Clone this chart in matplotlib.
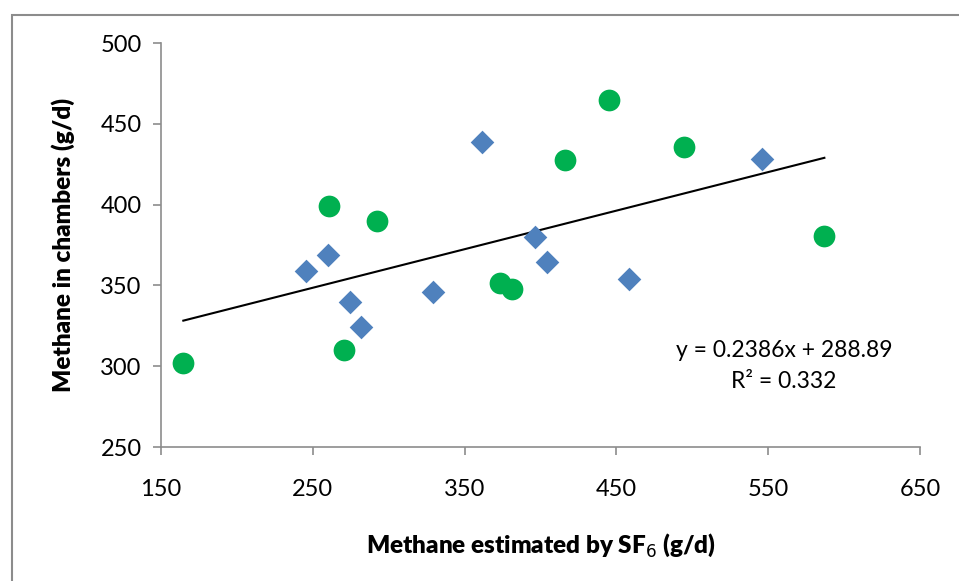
import matplotlib.pyplot as plt
import numpy as np
from matplotlib.patches import Rectangle

# data
blue_x = [245.6, 260.3, 274.8, 282.0, 329.2, 361.4, 396.1, 404.4, 458.6, 546.1]
blue_y = [358.7, 368.8, 339.9, 324.3, 345.7, 438.5, 380.0, 364.7, 354.0, 428.2]
green_x = [164.7, 260.5, 270.4, 292.1, 373.0, 381.4, 416.4, 445.2, 494.5, 587.0]
green_y = [301.8, 399.1, 309.8, 390.0, 351.7, 347.6, 427.6, 464.5, 435.6, 380.8]
slope, intercept = 0.2386, 288.89
r2 = 0.332
x_ticks = [150, 250, 350, 450, 550, 650]
y_ticks = [250, 300, 350, 400, 450, 500]

plt.rcParams['font.family'] = ['Lato', 'DejaVu Sans']

fig = plt.figure(figsize=(9.59, 5.81), dpi=100)
ax = fig.add_axes([161 / 959, 1 - 447 / 581, (920 - 161) / 959, (447 - 43) / 581])

# outer chart frame (cropped at right and bottom)
fig.patches.append(Rectangle((12 / 959, -0.1), 1.0, 1 - 15 / 581 + 0.1,
                             transform=fig.transFigure, fill=False,
                             edgecolor='#8c8c8c', linewidth=1.5))

ax.scatter(blue_x, blue_y, marker='D', s=145, color='#4f81bd', linewidths=0, zorder=3)
ax.scatter(green_x, green_y, marker='o', s=245, color='#00b050', linewidths=0, zorder=3)

all_x = np.array(blue_x + green_x)
fx = np.array([all_x.min(), all_x.max()])
ax.plot(fx, slope * fx + intercept, color='black', linewidth=1.5, zorder=2)

# trendline label, placed in axes fraction
ax.text(0.821, 0.240, f'y = {slope}x + {intercept}', transform=ax.transAxes,
        ha='center', va='center', fontsize=16.5)
ax.text(0.821, 0.161, f'R² = {r2}', transform=ax.transAxes,
        ha='center', va='center', fontsize=16.5)

ax.set_xlim(150, 650)
ax.set_ylim(250, 500)
ax.set_xticks(x_ticks)
ax.set_yticks(y_ticks)
ax.tick_params(direction='out', length=6, width=1.2, color='#8c8c8c', labelsize=17, pad=8)
ax.tick_params(axis='x', pad=17)
for side in ['top', 'right']:
    ax.spines[side].set_visible(False)
for side in ['left', 'bottom']:
    ax.spines[side].set_color('#8c8c8c')
    ax.spines[side].set_linewidth(1.2)

ax.set_xlabel('Methane estimated by SF$_6$ (g/d)', fontsize=17.5, fontweight='heavy', labelpad=23)
ax.set_ylabel('Methane in chambers (g/d)', fontsize=17.5, fontweight='heavy', labelpad=18)

fig.savefig('out.png', dpi=100)
